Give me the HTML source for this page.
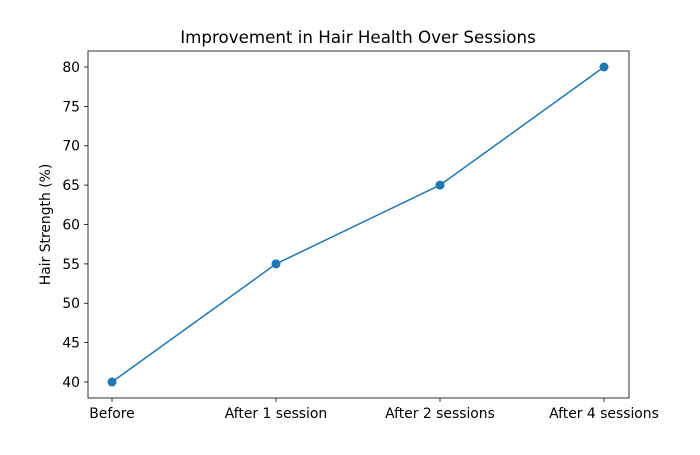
<!DOCTYPE html>
<html><head><meta charset="utf-8"><style>body{margin:0;background:#fff}</style></head>
<body>
<svg width="700" height="450" xmlns="http://www.w3.org/2000/svg" font-family="DejaVu Sans, sans-serif">
<rect width="700" height="450" fill="#fff"/>
<text x="358" y="43" font-size="16.7" text-anchor="middle">Improvement in Hair Health Over Sessions</text>
<g font-size="13.9" text-anchor="end" fill="#000">
<text x="80" y="387">40</text>
<text x="80" y="347.6">45</text>
<text x="80" y="308.2">50</text>
<text x="80" y="268.9">55</text>
<text x="80" y="229.5">60</text>
<text x="80" y="190.1">65</text>
<text x="80" y="150.7">70</text>
<text x="80" y="111.4">75</text>
<text x="80" y="72">80</text>
</g>
<g stroke="#000" stroke-width="0.8">
<line x1="84" x2="88" y1="382" y2="382"/>
<line x1="84" x2="88" y1="342.6" y2="342.6"/>
<line x1="84" x2="88" y1="303.25" y2="303.25"/>
<line x1="84" x2="88" y1="263.9" y2="263.9"/>
<line x1="84" x2="88" y1="224.5" y2="224.5"/>
<line x1="84" x2="88" y1="185.1" y2="185.1"/>
<line x1="84" x2="88" y1="145.75" y2="145.75"/>
<line x1="84" x2="88" y1="106.4" y2="106.4"/>
<line x1="84" x2="88" y1="67" y2="67"/>
<line x1="112" x2="112" y1="398" y2="402"/>
<line x1="276" x2="276" y1="398" y2="402"/>
<line x1="440" x2="440" y1="398" y2="402"/>
<line x1="604" x2="604" y1="398" y2="402"/>
</g>
<g font-size="13.9" text-anchor="middle">
<text x="112" y="418">Before</text>
<text x="276" y="418">After 1 session</text>
<text x="440" y="418">After 2 sessions</text>
<text x="604" y="418">After 4 sessions</text>
</g>
<text transform="translate(50,224.5) rotate(-90)" font-size="13.9" text-anchor="middle">Hair Strength (%)</text>
<polyline points="112,382 276,263.9 440,185.1 604,67" fill="none" stroke="#1f77b4" stroke-width="1.5"/>
<g fill="#1f77b4">
<circle cx="112" cy="382" r="4.5"/>
<circle cx="276" cy="263.9" r="4.5"/>
<circle cx="440" cy="185.1" r="4.5"/>
<circle cx="604" cy="67" r="4.5"/>
</g>
<rect x="88" y="51" width="541" height="347" fill="none" stroke="#000" stroke-width="0.8"/>
</svg>
</body></html>
